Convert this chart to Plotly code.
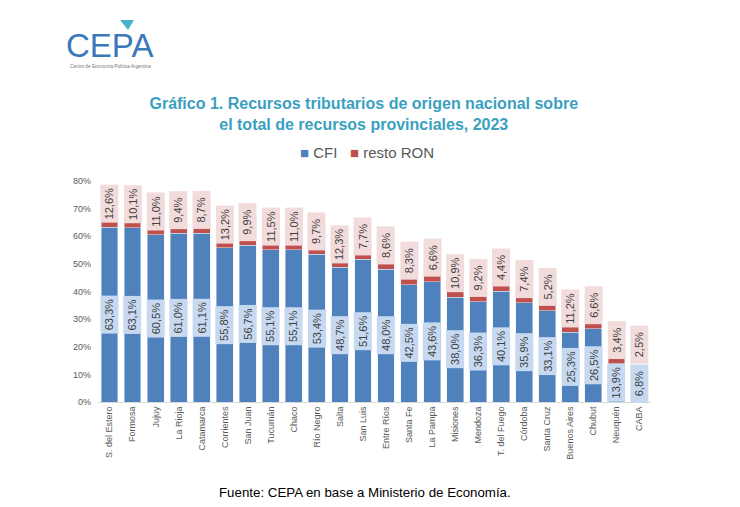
import plotly.graph_objects as go

# data (shares of provincial resources)
provincias = ["S. del Estero", "Formosa", "Jujuy", "La Rioja", "Catamarca", "Corrientes",
              "San Juan", "Tucumán", "Chaco", "Río Negro", "Salta", "San Luis",
              "Entre Ríos", "Santa Fe", "La Pampa", "Misiones", "Mendoza", "T. del Fuego",
              "Córdoba", "Santa Cruz", "Buenos Aires", "Chubut", "Neuquén", "CABA"]
cfi = [63.3, 63.1, 60.5, 61.0, 61.1, 55.8, 56.7, 55.1, 55.1, 53.4, 48.7, 51.6,
       48.0, 42.5, 43.6, 38.0, 36.3, 40.1, 35.9, 33.1, 25.3, 26.5, 13.9, 6.8]
resto_ron = [12.6, 10.1, 11.0, 9.4, 8.7, 13.2, 9.9, 11.5, 11.0, 9.7, 12.3, 7.7,
             8.6, 8.3, 6.6, 10.9, 9.2, 4.4, 7.4, 5.2, 11.2, 6.6, 3.4, 2.5]
y_ticks = [0, 10, 20, 30, 40, 50, 60, 70, 80]

AZUL = "#4f81bd"
ROJO = "#c0504d"
GRIS = "#595959"

def fmt(v):
    return f"{v:.1f}%".replace(".", ",")

fig = go.Figure()
fig.add_trace(go.Bar(x=provincias, y=[v / 100 for v in cfi], name="CFI",
                     marker_color=AZUL))
fig.add_trace(go.Bar(x=provincias, y=[v / 100 for v in resto_ron], name="resto RON",
                     marker_color=ROJO))

# label boxes (Excel style: value inside a filled box, rotated)
half_box = 0.0705   # half of the label box height in axis units
pad = 0.0145
for p, c, r in zip(provincias, cfi, resto_ron):
    yc = max(c / 100 / 2, half_box - 0.004)
    fig.add_annotation(x=p, y=yc, text=fmt(c), textangle=-90, showarrow=False,
                       xanchor="center", yanchor="middle", bgcolor="#c6d9f0",
                       width=33, height=13, borderpad=2,
                       font=dict(size=11, color="#404040"))
    yb = max(c / 100 + pad, yc + half_box)
    fig.add_annotation(x=p, y=yb, text=fmt(r), textangle=-90, showarrow=False,
                       xanchor="center", yanchor="bottom", bgcolor="#f2dcdb",
                       width=33, height=13, borderpad=2,
                       font=dict(size=11, color="#404040"))

# CEPA logo
fig.add_annotation(xref="paper", yref="paper", x=-0.062, y=1, yshift=136, text="CEPA",
                   showarrow=False, xanchor="left", yanchor="middle",
                   font=dict(family="Liberation Sans", size=33, color="#3a78ba"))
fig.add_annotation(xref="paper", yref="paper", x=-0.055, y=1, yshift=115,
                   text="Centro de Economía Política Argentina", showarrow=False,
                   xanchor="left", yanchor="middle",
                   font=dict(family="Liberation Sans", size=4.7, color="#777777"))
fig.add_shape(type="path", xref="paper", yref="paper", xsizemode="pixel",
              ysizemode="pixel", xanchor=0, yanchor=1,
              path="M 22 161 L 36 161 L 30 151 Z",
              fillcolor="#4ab3c9", line=dict(width=0))

# legend drawn as text, Excel style
fig.add_annotation(xref="paper", yref="paper", x=0.486, y=1, yshift=29,
                   text=f"<span style='color:{AZUL}'>■</span>&nbsp;CFI&nbsp;&nbsp;&nbsp;"
                        f"<span style='color:{ROJO}'>■</span>&nbsp;resto RON",
                   showarrow=False, xanchor="center", yanchor="middle",
                   font=dict(size=15, color=GRIS))

fig.update_layout(
    width=732, height=499,
    margin=dict(l=90, r=89, t=173, b=105),
    paper_bgcolor="white", plot_bgcolor="white",
    barmode="stack", bargap=0.27, showlegend=False,
    font=dict(family="Liberation Sans", color=GRIS),
    title=dict(text="Gráfico 1. Recursos tributarios de origen nacional sobre<br>el total de recursos provinciales, 2023",
               x=0.486, xanchor="center", y=0.797, yanchor="middle",
               font=dict(family="Liberation Sans", size=16, color="#3aa0c0",
                         weight="bold")),
    xaxis=dict(tickangle=-90, tickfont=dict(size=9, color=GRIS), showline=True,
               linecolor="#d9d9d9", ticks="", automargin=False),
    yaxis=dict(range=[0, 0.8], tickvals=[v / 100 for v in y_ticks],
               ticktext=[f"{v}%" for v in y_ticks], tickfont=dict(size=9, color=GRIS),
               showgrid=False, zeroline=False, automargin=False, ticklabelstandoff=6),
)

fig.add_annotation(xref="paper", yref="paper", x=0.482, y=0, yshift=-90,
                   text="Fuente: CEPA en base a Ministerio de Economía.",
                   showarrow=False, xanchor="center", yanchor="middle",
                   font=dict(size=13.3, color="black"))

fig.write_html("out.html")
